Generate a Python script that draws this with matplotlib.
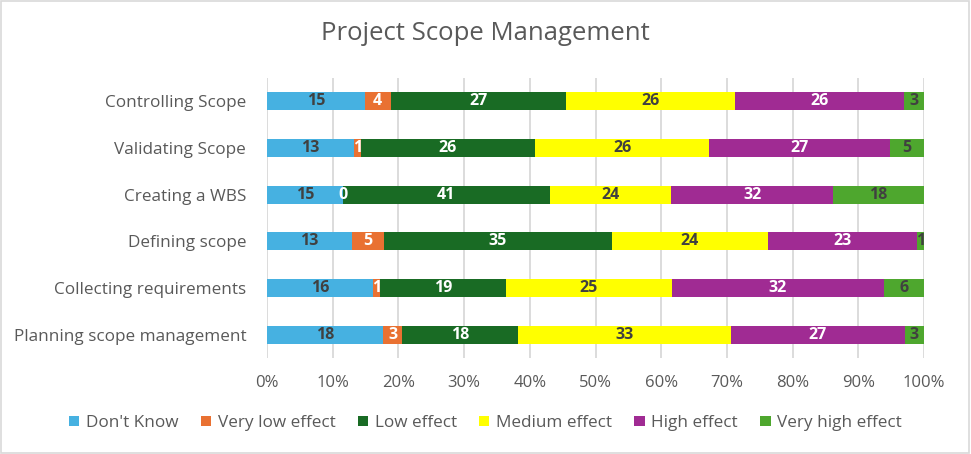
import matplotlib
matplotlib.use("Agg")
import matplotlib.pyplot as plt
import numpy as np
from matplotlib.patches import Rectangle

categories = ["Controlling Scope", "Validating Scope", "Creating a WBS",
              "Defining scope", "Collecting requirements", "Planning scope management"]
series_names = ["Don't Know", "Very low effect", "Low effect",
                "Medium effect", "High effect", "Very high effect"]
dont_know = [15, 13, 15, 13, 16, 18]
very_low = [4, 1, 0, 5, 1, 3]
low = [27, 26, 41, 35, 19, 18]
medium = [26, 26, 24, 24, 25, 33]
high = [26, 27, 32, 23, 32, 27]
very_high = [3, 5, 18, 1, 6, 3]
xtick_labels = ["0%", "10%", "20%", "30%", "40%", "50%", "60%", "70%", "80%", "90%", "100%"]

colors = ["#46B1E1", "#E97132", "#196B24", "#FFFF00", "#A02B93", "#4EA72E"]
label_colors = ["#404040", "white", "white", "#404040", "white", "#404040"]

plt.rcParams['font.family'] = ['Open Sans', 'DejaVu Sans']

data = np.array([dont_know, very_low, low, medium, high, very_high], dtype=float)
totals = data.sum(axis=0)
frac = data / totals

fig = plt.figure(figsize=(9.71, 4.54), dpi=100)
ax = fig.add_axes([267/971, 1-358.4/454, (924-267)/971, 280.8/454])

y = np.arange(len(categories))
left = np.zeros(len(categories))
handles = []
for i, name in enumerate(series_names):
    bars = ax.barh(y, frac[i], left=left, height=0.385, color=colors[i],
                   label=name, zorder=3)
    handles.append(bars)
    for j in range(len(categories)):
        cx = left[j] + frac[i][j] / 2
        ax.text(cx, y[j], f"{int(data[i][j])}", ha="center", va="center",
                fontsize=11.5, fontweight="bold", color=label_colors[i], zorder=4)
    left += frac[i]

ax.set_xlim(0, 1)
ax.set_ylim(len(categories) - 0.5, -0.5)
ax.set_yticks(y)
ax.set_yticklabels(categories, fontsize=12.3, color="#595959")
ax.set_xticks(np.linspace(0, 1, 11))
ax.set_xticklabels(xtick_labels, fontsize=12, color="#595959")
ax.tick_params(axis="both", length=0)
ax.tick_params(axis="y", pad=15)
ax.tick_params(axis="x", pad=12)
ax.grid(axis="x", color="#D9D9D9", linewidth=1.3, zorder=0)
for s in ax.spines.values():
    s.set_visible(False)

fig.text(0.5, 1-34/454, "Project Scope Management", ha="center", va="center",
         fontsize=18.5, color="#595959")

fig.legend(handles=handles, labels=series_names, loc="center",
           bbox_to_anchor=(0.5, 1-423/454), ncol=6, frameon=False,
           fontsize=12.3, handlelength=0.6, handleheight=0.6, handletextpad=0.4,
           columnspacing=1.3, labelcolor="#595959")

fig.patches.append(Rectangle((0.001, 0.002), 0.997, 0.995, transform=fig.transFigure,
                             fill=False, edgecolor="#D9D9D9", linewidth=1.2))

fig.savefig("out.png", dpi=100)
